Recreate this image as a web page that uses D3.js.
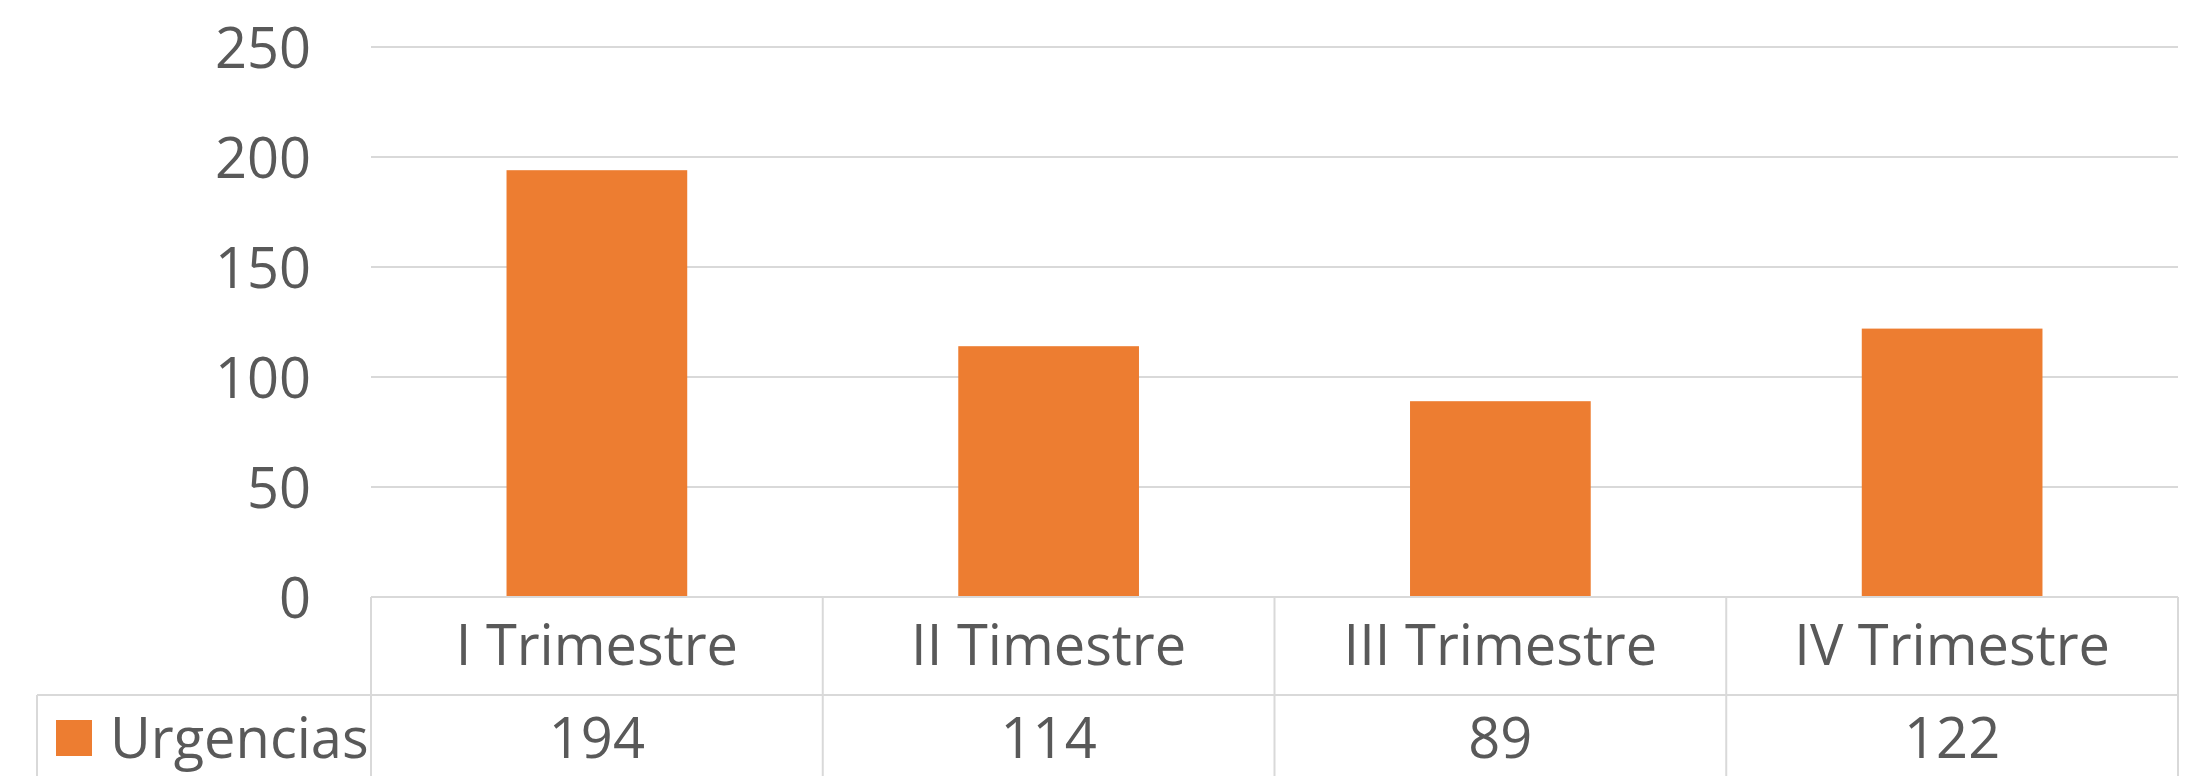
<!DOCTYPE html>
<html>
<head>
<meta charset="utf-8">
<script src="https://cdn.jsdelivr.net/npm/d3@7"></script>
<style>
  body { margin: 0; background: #fff; }
  text { font-family: "Open Sans", Calibri, sans-serif; fill: #595959; }
</style>
</head>
<body>
<div id="chart"></div>
<script>
// data
const categories = ['I Trimestre', 'II Timestre', 'III Trimestre', 'IV Trimestre'];
const seriesName = 'Urgencias';
const values = [194, 114, 89, 122];
const yTicks = [0, 50, 100, 150, 200, 250];

const W = 2187, H = 776;
const plot = { left: 371, right: 2178, top: 47, bottom: 597 };
const rowH = 98;
const legendLeft = 37;
const orange = '#ED7D31', grid = '#D9D9D9';

const svg = d3.select('#chart').append('svg')
  .attr('width', W).attr('height', H);

const x = d3.scaleBand()
  .domain(categories)
  .range([plot.left, plot.right])
  .padding(0);

const y = d3.scaleLinear()
  .domain([0, 250])
  .range([plot.bottom, plot.top]);

// gridlines
svg.append('g')
  .selectAll('line')
  .data(yTicks.filter(d => d > 0))
  .enter().append('line')
  .attr('x1', plot.left).attr('x2', plot.right)
  .attr('y1', d => y(d)).attr('y2', d => y(d))
  .attr('stroke', grid).attr('stroke-width', 2);

// y axis labels
const yAxis = svg.append('g')
  .attr('transform', 'translate(' + 311 + ',0)')
  .call(d3.axisLeft(y).tickValues(yTicks).tickSize(0).tickPadding(0));
yAxis.select('.domain').remove();
yAxis.selectAll('text')
  .attr('dy', '0.36em')
  .style('font-size', '56px')
  .style('font-family', '"Open Sans", Calibri, sans-serif')
  .attr('fill', '#595959');

// bars
const barW = x.bandwidth() * 0.4;
svg.append('g')
  .selectAll('rect')
  .data(values)
  .enter().append('rect')
  .attr('x', (d, i) => x(categories[i]) + (x.bandwidth() - barW) / 2)
  .attr('y', d => y(d))
  .attr('width', barW)
  .attr('height', d => y(0) - y(d))
  .attr('fill', orange);

// data table
const table = svg.append('g')
  .attr('stroke', grid).attr('stroke-width', 2).attr('fill', 'none');

// top (axis) line and row separator
table.append('line')
  .attr('x1', plot.left).attr('x2', plot.right)
  .attr('y1', y(0)).attr('y2', y(0));
table.append('line')
  .attr('x1', legendLeft).attr('x2', plot.right)
  .attr('y1', y(0) + rowH).attr('y2', y(0) + rowH);
// vertical lines
const vx = categories.map(c => x(c)).concat([plot.right]);
table.selectAll('.v')
  .data(vx)
  .enter().append('line')
  .attr('x1', d => d).attr('x2', d => d)
  .attr('y1', y(0)).attr('y2', y(0) + rowH * 2);
table.append('line')
  .attr('x1', legendLeft).attr('x2', legendLeft)
  .attr('y1', y(0) + rowH).attr('y2', y(0) + rowH * 2);

// category labels
svg.append('g')
  .selectAll('text')
  .data(categories)
  .enter().append('text')
  .attr('x', d => x(d) + x.bandwidth() / 2)
  .attr('y', y(0) + 68)
  .attr('text-anchor', 'middle')
  .style('font-size', '56px')
  .text(d => d);

// value row
svg.append('g')
  .selectAll('text')
  .data(values)
  .enter().append('text')
  .attr('x', (d, i) => x(categories[i]) + x.bandwidth() / 2)
  .attr('y', y(0) + rowH + 63)
  .attr('text-anchor', 'middle')
  .style('font-size', '56px')
  .text(d => d);

// legend key
svg.append('rect')
  .attr('x', 56).attr('y', y(0) + rowH + 25)
  .attr('width', 36).attr('height', 36)
  .attr('fill', orange);
svg.append('text')
  .attr('x', 110).attr('y', y(0) + rowH + 63)
  .style('font-size', '56px')
  .text(seriesName);
</script>
</body>
</html>
